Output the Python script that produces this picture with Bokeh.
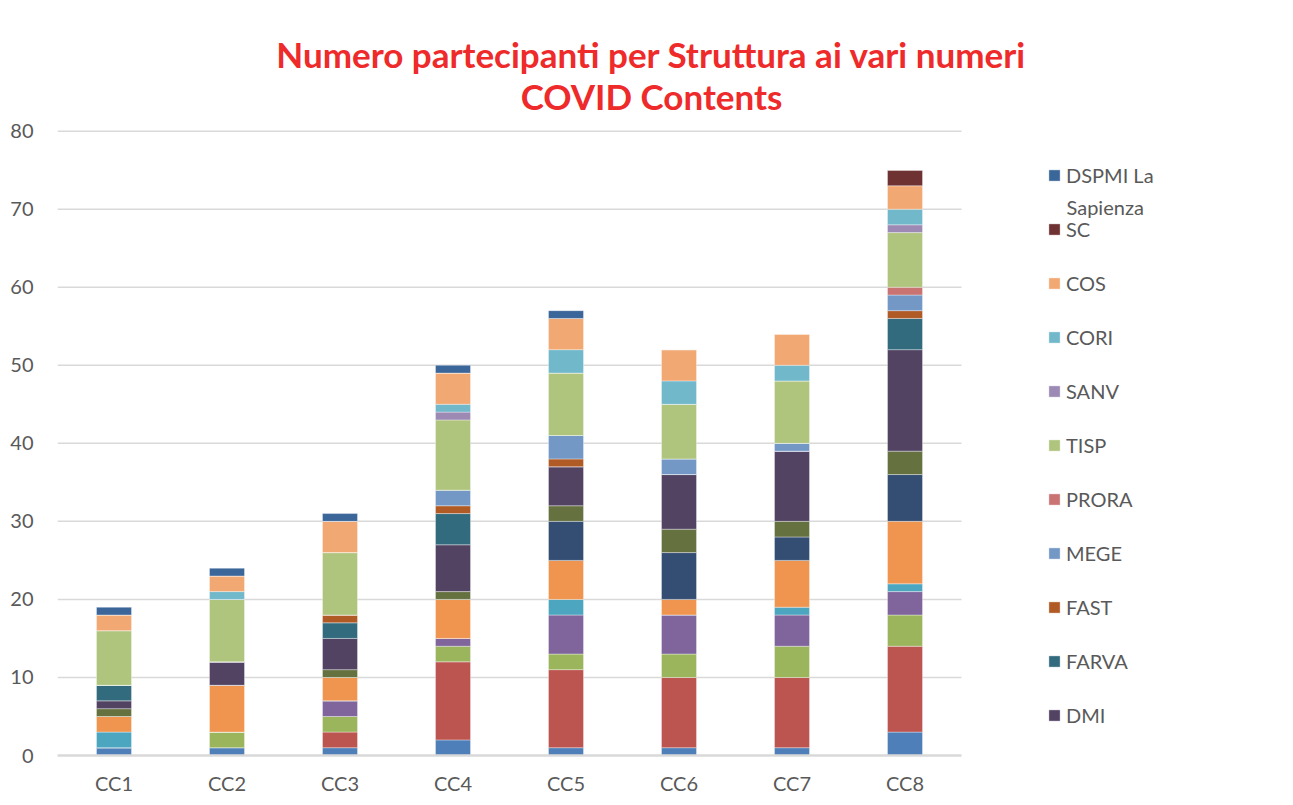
from bokeh.plotting import figure
from bokeh.models import ColumnDataSource, Legend, LegendItem, Label, FixedTicker, Range1d
from bokeh.embed import file_html
from bokeh.resources import INLINE

categories = ["CC1", "CC2", "CC3", "CC4", "CC5", "CC6", "CC7", "CC8"]

# series stacked from bottom to top (first eight are not listed in the visible legend)
serie_1 = [1, 1, 1, 2, 1, 1, 1, 3]
serie_2 = [0, 0, 2, 10, 10, 9, 9, 11]
serie_3 = [0, 2, 2, 2, 2, 3, 4, 4]
serie_4 = [0, 0, 2, 1, 5, 5, 4, 3]
serie_5 = [2, 0, 0, 0, 2, 0, 1, 1]
serie_6 = [2, 6, 3, 5, 5, 2, 6, 8]
serie_7 = [0, 0, 0, 0, 5, 6, 3, 6]
serie_8 = [1, 0, 1, 1, 2, 3, 2, 3]
dmi = [1, 3, 4, 6, 5, 7, 9, 13]
farva = [2, 0, 2, 4, 0, 0, 0, 4]
fast = [0, 0, 1, 1, 1, 0, 0, 1]
mege = [0, 0, 0, 2, 3, 2, 1, 2]
prora = [0, 0, 0, 0, 0, 0, 0, 1]
tisp = [7, 8, 8, 9, 8, 7, 8, 7]
sanv = [0, 0, 0, 1, 0, 0, 0, 1]
cori = [0, 1, 0, 1, 3, 3, 2, 2]
cos = [2, 2, 4, 4, 4, 4, 4, 3]
sc = [0, 0, 0, 0, 0, 0, 0, 2]
dspmi = [1, 1, 1, 1, 1, 0, 0, 0]

y_ticks = [0, 10, 20, 30, 40, 50, 60, 70, 80]

series_keys = ["s1", "s2", "s3", "s4", "s5", "s6", "s7", "s8", "DMI", "FARVA", "FAST",
               "MEGE", "PRORA", "TISP", "SANV", "CORI", "COS", "SC", "DSPMI"]
series_vals = [serie_1, serie_2, serie_3, serie_4, serie_5, serie_6, serie_7, serie_8,
               dmi, farva, fast, mege, prora, tisp, sanv, cori, cos, sc, dspmi]
legend_order = ["DSPMI", "SC", "COS", "CORI", "SANV", "TISP", "PRORA", "MEGE", "FAST", "FARVA", "DMI"]
legend_labels = {"DSPMI": "DSPMI La", "SC": "SC", "COS": "COS", "CORI": "CORI",
                 "SANV": "SANV", "TISP": "TISP", "PRORA": "PRORA", "MEGE": "MEGE",
                 "FAST": "FAST", "FARVA": "FARVA", "DMI": "DMI"}
colors = ["#4F7FB8", "#BC5450", "#9BB55C", "#7F659C", "#4DA6BF", "#EF954F", "#344E73",
          "#65713F", "#524363", "#336B7E", "#B05B26", "#7398C6", "#C97472", "#AFC47D",
          "#9C89B4", "#71B8CB", "#F2A873", "#6F3233", "#3B6699"]

FONT = "Lato"
TXT = "#595959"

# numeric category slots: slot i is centred on i + 0.5
n = len(categories)
x_pos = [i + 0.5 for i in range(n)]
data = {"x": x_pos}
for k, v in zip(series_keys, series_vals):
    data[k] = v
source = ColumnDataSource(data)

# frame spans the whole canvas right of the y axis; one slot = 113 px, 80 = 626 px
W, H = 1280, 797
left, bottom = 57, 40
frame_w, frame_h = W - left, H - bottom
p = figure(width=W, height=H, output_backend="svg", toolbar_location=None,
           x_range=Range1d(0, frame_w / 113.0), y_range=Range1d(0, 80 * frame_h / 626.0),
           min_border_left=left, min_border_right=0, min_border_top=0, min_border_bottom=bottom)
p.outline_line_color = None
p.background_fill_color = "white"
p.border_fill_color = "white"
p.xgrid.grid_line_color = None
p.ygrid.grid_line_color = None

# horizontal gridlines limited to the category area
p.segment(x0=[0] * (len(y_ticks) - 1), x1=[n] * (len(y_ticks) - 1),
          y0=y_ticks[1:], y1=y_ticks[1:], line_color="#d9d9d9", line_width=1.5)

renderers = p.vbar_stack(series_keys, x="x", width=0.31, color=colors, source=source,
                         line_color="white", line_width=0.6, line_alpha=0.6)

p.yaxis.ticker = FixedTicker(ticks=y_ticks)
p.yaxis.axis_line_color = None
p.yaxis.major_tick_line_color = None
p.yaxis.minor_tick_line_color = None
p.yaxis.major_tick_out = 0
p.yaxis.major_label_standoff = 24
p.yaxis.major_label_text_font = FONT
p.yaxis.major_label_text_font_size = "20px"
p.yaxis.major_label_text_color = TXT

p.xaxis.ticker = FixedTicker(ticks=x_pos)
p.xaxis.major_label_overrides = {xp: c for xp, c in zip(x_pos, categories)}
p.xaxis.bounds = (0, n)
p.xaxis.axis_line_color = "#d9d9d9"
p.xaxis.axis_line_width = 2.5
p.xaxis.major_tick_line_color = None
p.xaxis.minor_tick_line_color = None
p.xaxis.major_tick_out = 0
p.xaxis.major_label_standoff = 15
p.xaxis.major_label_text_font = FONT
p.xaxis.major_label_text_font_size = "20px"
p.xaxis.major_label_text_color = TXT

# title: two centred lines
for txt, yy in [("Numero partecipanti per Struttura ai vari numeri", 702),
                ("COVID Contents", 660)]:
    p.add_layout(Label(x=594, y=yy, x_units="screen", y_units="screen", text=txt,
                       text_align="center", text_baseline="middle",
                       text_font=FONT, text_font_style="bold",
                       text_font_size="35px", text_color="#EE2A2A"))

items = [LegendItem(label=legend_labels[k], renderers=[renderers[series_keys.index(k)]])
         for k in legend_order]
legend = Legend(items=items, location=(990, 28), orientation="vertical",
                label_text_font=FONT, label_text_font_size="20px", label_text_color=TXT,
                glyph_width=14, glyph_height=14, label_height=22, spacing=30,
                padding=0, margin=0, label_standoff=5,
                border_line_color=None, background_fill_alpha=0)
p.add_layout(legend)

# second line of the wrapped legend label "DSPMI La Sapienza"
p.add_layout(Label(x=1009, y=549, x_units="screen", y_units="screen", text="Sapienza",
                   text_align="left", text_baseline="middle", text_font=FONT,
                   text_font_size="20px", text_color=TXT))

open("out.html", "w").write(file_html(p, INLINE))
